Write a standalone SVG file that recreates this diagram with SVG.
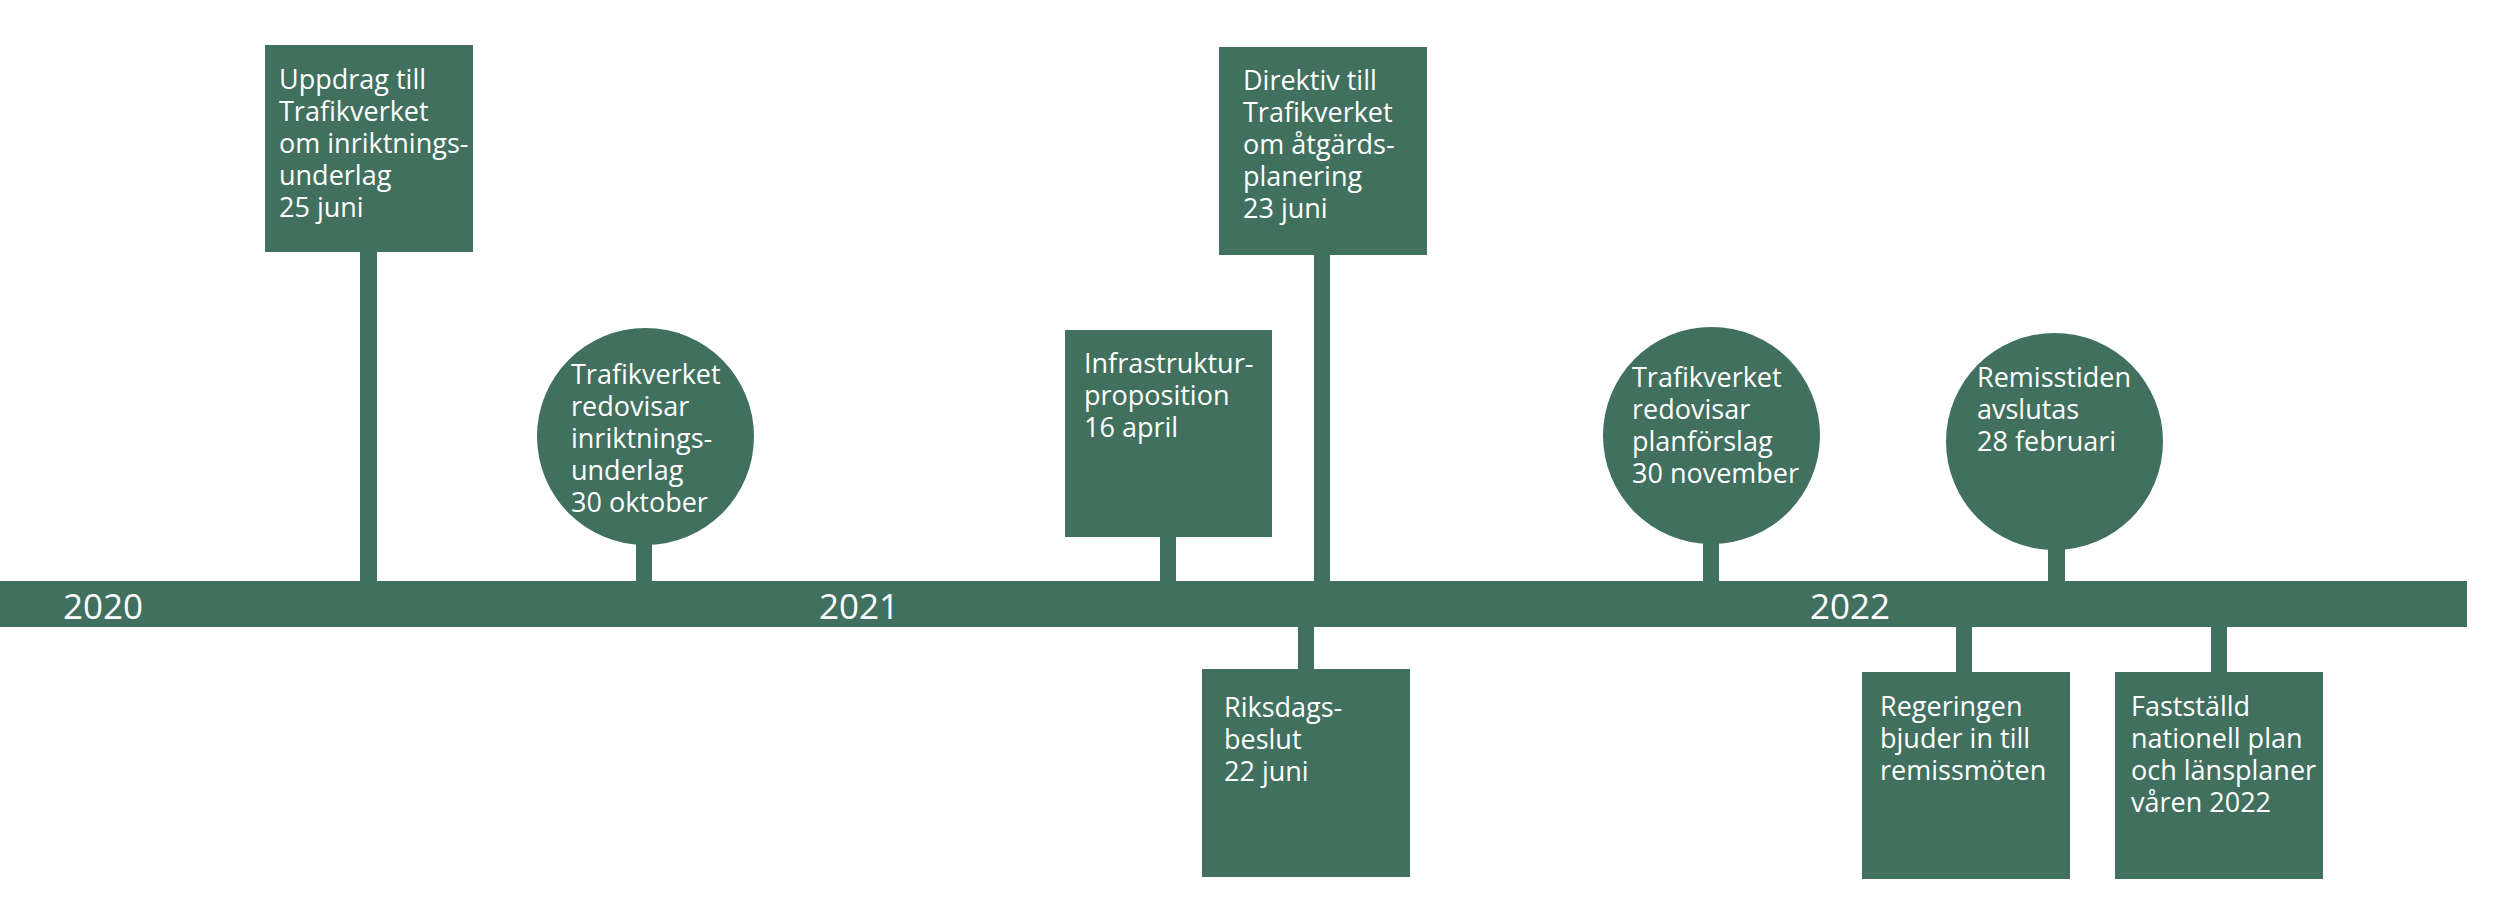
<svg xmlns="http://www.w3.org/2000/svg" width="2520" height="913" viewBox="0 0 2520 913">
<style>
.f{fill:#41705f}
.t{font-family:"Open Sans","Noto Sans","Liberation Sans",sans-serif;font-size:27px;fill:#ffffff}
.y{font-family:"Open Sans","Noto Sans","Liberation Sans",sans-serif;font-size:35px;fill:#ffffff}
</style>
<rect width="2520" height="913" fill="#ffffff"/>
<g id="connectors" class="f">
<rect x="360" y="250" width="17" height="333"/>
<rect x="636" y="538" width="16" height="45"/>
<rect x="1160" y="535" width="16" height="48"/>
<rect x="1314" y="253" width="16" height="330"/>
<rect x="1298" y="625" width="16" height="46"/>
<rect x="1703" y="538" width="16" height="45"/>
<rect x="2048" y="545" width="17" height="38"/>
<rect x="1956" y="625" width="16" height="49"/>
<rect x="2211" y="625" width="16" height="49"/>
</g>
<g id="timeline">
<rect class="f" x="0" y="581" width="2467" height="46"/>
<text class="y" x="63" y="619">2020</text>
<text class="y" x="819" y="619">2021</text>
<text class="y" x="1810" y="619">2022</text>
</g>
<g id="n1">
<rect class="f" x="265" y="45" width="208" height="207"/>
<text class="t"><tspan x="279" y="89">Uppdrag till</tspan><tspan x="279" y="121">Trafikverket</tspan><tspan x="279" y="153">om inriktnings-</tspan><tspan x="279" y="185">underlag</tspan><tspan x="279" y="217">25 juni</tspan></text>
</g>
<g id="n2">
<circle class="f" cx="645.5" cy="436.5" r="108.5"/>
<text class="t"><tspan x="571" y="384">Trafikverket</tspan><tspan x="571" y="416">redovisar</tspan><tspan x="571" y="448">inriktnings-</tspan><tspan x="571" y="480">underlag</tspan><tspan x="571" y="512">30 oktober</tspan></text>
</g>
<g id="n3">
<rect class="f" x="1065" y="330" width="207" height="207"/>
<text class="t"><tspan x="1084" y="373">Infrastruktur-</tspan><tspan x="1084" y="405">proposition</tspan><tspan x="1084" y="437">16 april</tspan></text>
</g>
<g id="n4">
<rect class="f" x="1219" y="47" width="208" height="208"/>
<text class="t"><tspan x="1243" y="90">Direktiv till</tspan><tspan x="1243" y="122">Trafikverket</tspan><tspan x="1243" y="154">om åtgärds-</tspan><tspan x="1243" y="186">planering</tspan><tspan x="1243" y="218">23 juni</tspan></text>
</g>
<g id="n5">
<rect class="f" x="1202" y="669" width="208" height="208"/>
<text class="t"><tspan x="1224" y="717">Riksdags-</tspan><tspan x="1224" y="749">beslut</tspan><tspan x="1224" y="781">22 juni</tspan></text>
</g>
<g id="n6">
<circle class="f" cx="1711.5" cy="435.5" r="108.5"/>
<text class="t"><tspan x="1632" y="387">Trafikverket</tspan><tspan x="1632" y="419">redovisar</tspan><tspan x="1632" y="451">planförslag</tspan><tspan x="1632" y="483">30 november</tspan></text>
</g>
<g id="n7">
<circle class="f" cx="2054.5" cy="441.5" r="108.5"/>
<text class="t"><tspan x="1977" y="387">Remisstiden</tspan><tspan x="1977" y="419">avslutas</tspan><tspan x="1977" y="451">28 februari</tspan></text>
</g>
<g id="n8">
<rect class="f" x="1862" y="672" width="208" height="207"/>
<text class="t"><tspan x="1880" y="716">Regeringen</tspan><tspan x="1880" y="748">bjuder in till</tspan><tspan x="1880" y="780">remissmöten</tspan></text>
</g>
<g id="n9">
<rect class="f" x="2115" y="672" width="208" height="207"/>
<text class="t"><tspan x="2131" y="716">Fastställd</tspan><tspan x="2131" y="748">nationell plan</tspan><tspan x="2131" y="780">och länsplaner</tspan><tspan x="2131" y="812">våren 2022</tspan></text>
</g>
</svg>
